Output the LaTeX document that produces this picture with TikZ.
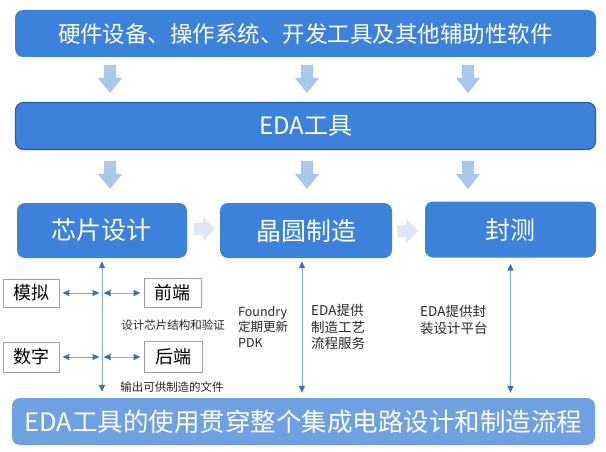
\documentclass[tikz,border=0pt]{standalone}
\usepackage{fontspec}
\setmainfont{Noto Sans CJK SC}
\usetikzlibrary{arrows.meta}
\definecolor{boxblue}{HTML}{3C82DA}
\definecolor{edaborder}{HTML}{2B5C9C}
\definecolor{botblue}{HTML}{6EA0E2}
\definecolor{arrblue}{HTML}{A9C6EB}
\definecolor{harrow}{HTML}{DDE7F5}
\definecolor{vlinec}{HTML}{8AA7CA}
\definecolor{tipblue}{HTML}{3A73BD}
\begin{document}
\begin{tikzpicture}[x=1pt,y=-1pt,
 bigbox/.style={rectangle, rounded corners=8pt, fill=boxblue, text=white, inner sep=0pt},
 smallbox/.style={rectangle, draw=gray!75, line width=0.8pt, fill=white, inner sep=0pt, minimum width=56pt, font=\fontsize{18}{20}\selectfont},
 conn/.style={draw=vlinec, line width=1pt, arrows={Triangle[length=7pt,width=6pt,color=tipblue]-Triangle[length=7pt,width=6pt,color=tipblue]}},
 lbl/.style={text=black!85, inner sep=0pt, align=left},
 darr/.pic={\fill[arrblue] (-6,0) -- (6,0) -- (6,13) -- (12,13) -- (0,28) -- (-12,13) -- (-6,13) -- cycle;},
 rarr/.pic={\fill[harrow] (0,-6) -- (9,-6) -- (9,-12) -- (21,0) -- (9,12) -- (9,6) -- (0,6) -- cycle;}
]
\fill[white] (0,0) rectangle (606,452);
\useasboundingbox (0,0) rectangle (606,452);

% top rows
\node[bigbox, minimum width=581pt, minimum height=47pt, font=\fontsize{22.5}{24}\selectfont] (top) at (305.5,33.5) {硬件设备、操作系统、开发工具及其他辅助性软件};
\node[bigbox, draw=edaborder, line width=1.2pt, minimum width=580pt, minimum height=47pt, font=\fontsize{24}{26}\selectfont] (eda) at (305.5,126) {EDA工具};

\foreach \x in {110,307,468} {
  \pic at (\x,65) {darr};
  \pic at (\x,161) {darr};
}

% process boxes
\node[bigbox, minimum width=170pt, minimum height=55pt, font=\fontsize{25}{27}\selectfont] (chip) at (102,230.5) {芯片设计};
\node[bigbox, minimum width=172pt, minimum height=55pt, font=\fontsize{25}{27}\selectfont] (wafer) at (306,230.5) {晶圆制造};
\node[bigbox, minimum width=171pt, minimum height=56pt, font=\fontsize{25}{27}\selectfont] (pack) at (510.5,229.5) {封测};

\pic at (194,229) {rarr};
\pic at (397,231) {rarr};

% bottom box
\node[bigbox, fill=botblue, minimum width=583pt, minimum height=47pt, font=\fontsize{25.5}{27}\selectfont] (bottom) at (303.5,421.5) {EDA工具的使用贯穿整个集成电路设计和制造流程};

% small boxes
\node[smallbox, minimum height=28pt] (moni) at (31,293) {模拟};
\node[smallbox, minimum height=30pt] (shuzi) at (31,357) {数字};
\node[smallbox, minimum width=57pt, minimum height=29pt] (qian) at (172.5,293) {前端};
\node[smallbox, minimum width=58pt, minimum height=31pt] (hou) at (173,357) {后端};

% vertical connectors
\coordinate (v1) at (chip.south);
\draw[conn, shorten <=3pt, shorten >=6pt] (v1) -- (v1 |- bottom.north);
\coordinate (v2) at ([xshift=-4pt]wafer.south);
\draw[conn, shorten <=3pt, shorten >=5pt] (v2) -- (v2 |- bottom.north);
\coordinate (v3) at (pack.south);
\draw[conn, shorten <=6pt, shorten >=5pt] (v3) -- (v3 |- bottom.north);

% horizontal connectors
\draw[conn, shorten <=3pt, shorten >=2.5pt] (moni.east) -- (moni.east -| v1);
\draw[conn, shorten <=1.5pt, shorten >=3pt] (moni.east -| v1) -- (qian.west);
\draw[conn, shorten <=3pt, shorten >=2.5pt] (shuzi.east) -- (shuzi.east -| v1);
\draw[conn, shorten <=1.5pt, shorten >=3pt] (shuzi.east -| v1) -- (hou.west);

% labels
\node[lbl, font=\fontsize{11.5}{13}\selectfont] (l1) at (173,325) {设计芯片结构和验证};
\node[lbl, font=\fontsize{11.5}{13}\selectfont] (l2) at (172,387) {输出可供制造的文件};
\node[lbl, anchor=west, font=\fontsize{12.5}{15.5}\selectfont] (l3) at (238,327) {Foundry\\定期更新\\PDK};
\node[lbl, anchor=west, font=\fontsize{13.5}{16.5}\selectfont] (l4) at (311,327) {EDA提供\\制造工艺\\流程服务};
\node[lbl, anchor=west, font=\fontsize{13.5}{16.5}\selectfont] (l5) at (420,320) {EDA提供封\\装设计平台};
\end{tikzpicture}
\end{document}
